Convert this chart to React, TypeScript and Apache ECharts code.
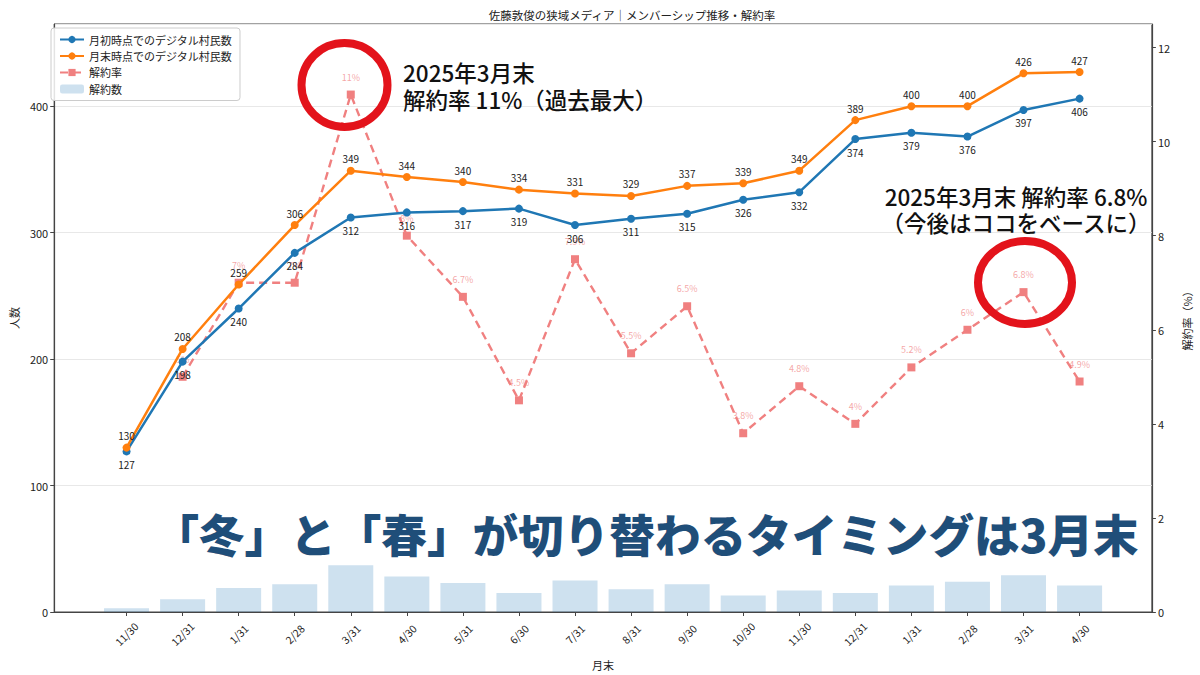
import { useEffect, useRef } from 'react';
import * as echarts from 'echarts';

// month-end labels (Nov 2023 .. Apr 2025)
const months = [
  '11/30', '12/31', '1/31', '2/28', '3/31', '4/30', '5/31', '6/30', '7/31',
  '8/31', '9/30', '10/30', '11/30', '12/31', '1/31', '2/28', '3/31', '4/30',
];
const startMembers = [127, 198, 240, 284, 312, 316, 317, 319, 306, 311, 315, 326, 332, 374, 379, 376, 397, 406];
const endMembers = [130, 208, 259, 306, 349, 344, 340, 334, 331, 329, 337, 339, 349, 389, 400, 400, 426, 427];
const churnRate: (number | null)[] = [null, 5, 7, 7, 11, 8, 6.7, 4.5, 7.5, 5.5, 6.5, 3.8, 4.8, 4, 5.2, 6, 6.8, 4.9];
const churnCount = [3, 10, 19, 22, 37, 28, 23, 15, 25, 18, 22, 13, 17, 15, 21, 24, 29, 21];

const FONT = '"Noto Sans CJK JP", "Noto Sans", sans-serif';
const BLUE = '#1f77b4';
const ORANGE = '#ff7f0e';
const PINK = '#f08080';

export default function App() {
  const ref = useRef<HTMLDivElement>(null);

  useEffect(() => {
    if (!ref.current) return;
    const chart = echarts.init(ref.current, undefined, { renderer: 'svg' });
    const idx = months.map((_, i) => i);

    chart.setOption({
      animation: false,
      backgroundColor: '#fff',
      textStyle: { fontFamily: FONT },
      title: {
        text: '佐藤敦俊の狭域メディア｜メンバーシップ推移・解約率',
        left: 627,
        top: 4,
        textAlign: 'center',
        textStyle: { fontSize: 11.5, fontWeight: 'normal', color: '#222', fontFamily: FONT },
      },
      legend: {
        orient: 'vertical',
        left: 51,
        top: 28,
        padding: [6, 8, 6, 8],
        itemGap: 5.5,
        itemWidth: 24,
        itemHeight: 9,
        backgroundColor: 'rgba(255,255,255,0.85)',
        borderColor: '#cccccc',
        borderWidth: 1,
        borderRadius: 3,
        textStyle: { fontSize: 11, color: '#222', fontFamily: FONT },
        data: ['月初時点でのデジタル村民数', '月末時点でのデジタル村民数', '解約率', '解約数'],
      },
      grid: {
        left: 51,
        right: 45,
        top: 24,
        bottom: 60.5,
        show: true,
        borderColor: '#444',
        borderWidth: 1,
      },
      xAxis: {
        type: 'value',
        min: -1.29,
        max: 18.29,
        name: '月末',
        nameLocation: 'middle',
        nameGap: 47,
        nameTextStyle: { fontSize: 11, color: '#222' },
        splitLine: { show: false },
        axisLine: { onZero: false, lineStyle: { color: '#444', width: 1.2 } },
        axisTick: { customValues: idx, length: 4, lineStyle: { color: '#444' } },
        axisLabel: {
          customValues: idx,
          rotate: 45,
          margin: 22,
          align: 'center',
          verticalAlign: 'middle',
          fontSize: 10.5,
          color: '#222',
          formatter: (v: number) => months[Math.round(v)] ?? '',
        },
      },
      yAxis: [
        {
          type: 'value',
          min: 0,
          max: 465,
          interval: 100,
          name: '人数',
          nameLocation: 'middle',
          nameGap: 34,
          nameRotate: 90,
          nameTextStyle: { fontSize: 11, color: '#222' },
          axisLine: { show: true, onZero: false, lineStyle: { color: '#444', width: 1.2 } },
          axisTick: { show: true, length: 4, lineStyle: { color: '#444' } },
          axisLabel: { fontSize: 11, color: '#222', margin: 6, showMaxLabel: false },
          splitLine: { lineStyle: { color: '#e8e8e8', width: 1 } },
        },
        {
          type: 'value',
          min: 0,
          max: 12.5,
          interval: 2,
          position: 'right',
          name: '解約率（%）',
          nameLocation: 'middle',
          nameGap: 28,
          nameRotate: 90,
          nameTextStyle: { fontSize: 11, color: '#222' },
          axisLine: { show: true, onZero: false, lineStyle: { color: '#444', width: 1.2 } },
          axisTick: { show: true, length: 4, lineStyle: { color: '#444' } },
          axisLabel: { fontSize: 11, color: '#222', margin: 6, showMaxLabel: false },
          splitLine: { show: false },
        },
      ],
      series: [
        {
          name: '解約数',
          type: 'bar',
          yAxisIndex: 0,
          barWidth: 45,
          itemStyle: { color: 'rgba(31,119,180,0.22)' },
          data: churnCount.map((v, i) => [i, v]),
          z: 1,
        },
        {
          name: '解約率',
          type: 'line',
          yAxisIndex: 1,
          symbol: 'rect',
          symbolSize: 8,
          lineStyle: { color: PINK, width: 2.4, type: [8, 5] },
          itemStyle: { color: PINK },
          label: {
            show: true,
            position: 'top',
            distance: 9,
            fontSize: 9,
            color: 'rgba(240,128,128,0.7)',
            formatter: (p: any) => `${p.value[1]}%`,
          },
          data: churnRate
            .map((v, i) => (v == null ? null : [i, v]))
            .filter((d) => d != null),
          z: 2,
        },
        {
          name: '月初時点でのデジタル村民数',
          type: 'line',
          yAxisIndex: 0,
          symbol: 'circle',
          symbolSize: 8,
          lineStyle: { color: BLUE, width: 2.5 },
          itemStyle: { color: BLUE },
          label: {
            show: true,
            position: 'bottom',
            distance: 4,
            fontSize: 10,
            color: '#222',
            formatter: (p: any) => `${p.value[1]}`,
          },
          data: startMembers.map((v, i) => [i, v]),
          z: 3,
        },
        {
          name: '月末時点でのデジタル村民数',
          type: 'line',
          yAxisIndex: 0,
          symbol: 'circle',
          symbolSize: 8,
          lineStyle: { color: ORANGE, width: 2.5 },
          itemStyle: { color: ORANGE },
          label: {
            show: true,
            position: 'top',
            distance: 3,
            fontSize: 10,
            color: '#222',
            formatter: (p: any) => `${p.value[1]}`,
          },
          data: endMembers.map((v, i) => [i, v]),
          z: 4,
        },
      ],
      graphic: [
        // red highlight rings
        {
          type: 'ellipse',
          shape: { cx: 344.5, cy: 85, rx: 43, ry: 42 },
          style: { fill: 'none', stroke: '#e3131b', lineWidth: 8 },
          z: 100,
        },
        {
          type: 'ellipse',
          shape: { cx: 1025, cy: 282.5, rx: 47, ry: 41.5 },
          style: { fill: 'none', stroke: '#e3131b', lineWidth: 8 },
          z: 100,
        },
        {
          type: 'text',
          left: 403,
          top: 58,
          z: 101,
          style: {
            text: '2025年3月末\n解約率 11%（過去最大）',
            fontSize: 22.5,
            fontWeight: 500,
            lineHeight: 27,
            fontFamily: FONT,
            fill: '#111',
          },
        },
        {
          type: 'text',
          x: 1016,
          y: 183,
          z: 101,
          style: {
            text: '2025年3月末 解約率 6.8%\n（今後はココをベースに）',
            fontSize: 22.5,
            fontWeight: 500,
            lineHeight: 26,
            fontFamily: FONT,
            fill: '#111',
            align: 'center',
            verticalAlign: 'top',
          },
        },
        {
          type: 'text',
          x: 646,
          y: 533,
          z: 101,
          style: {
            text: '「冬」と「春」が切り替わるタイミングは3月末',
            fontSize: 45.6,
            fontWeight: 900,
            fontFamily: FONT,
            fill: '#1f4e79',
            align: 'center',
            verticalAlign: 'middle',
          },
        },
      ],
    });

    return () => chart.dispose();
  }, []);

  return (
    <div
      ref={ref}
      style={{ position: 'fixed', left: 0, top: 0, width: 1200, height: 675 }}
    />
  );
}
